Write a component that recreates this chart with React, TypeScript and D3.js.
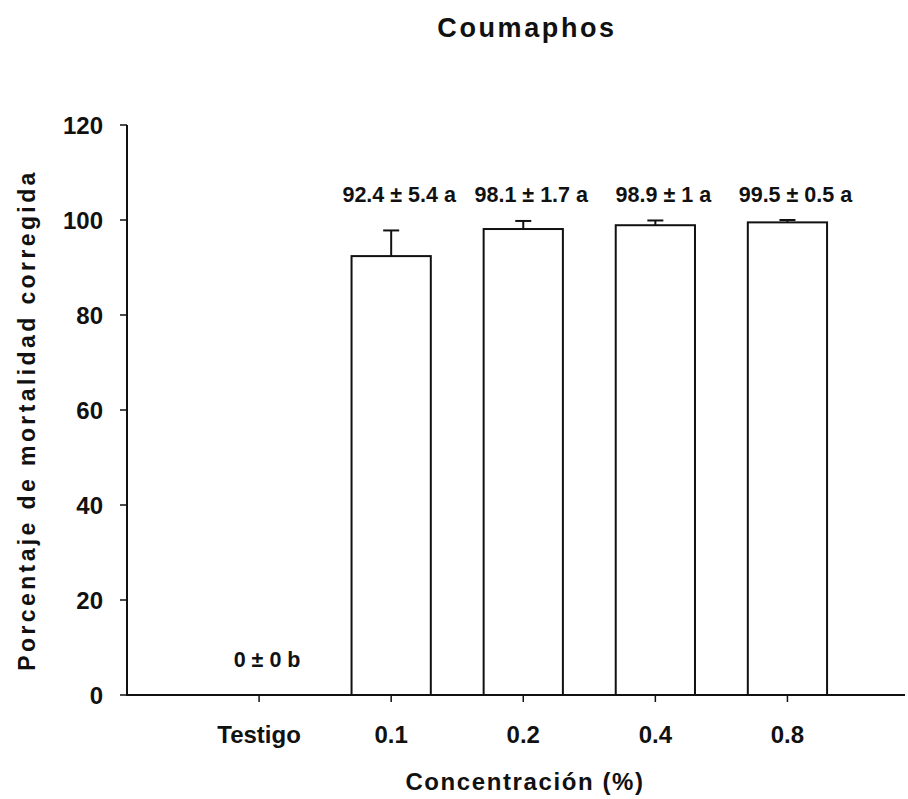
import * as d3 from "d3";

const TITLE = "Coumaphos";
const CATEGORIES = ["Testigo", "0.1", "0.2", "0.4", "0.8"];
const MEANS = [0, 92.4, 98.1, 98.9, 99.5];
const ERRORS = [0, 5.4, 1.7, 1, 0.5];
const LETTERS = ["b", "a", "a", "a", "a"];
const Y_TICKS = [0, 20, 40, 60, 80, 100, 120];
const Y_LABEL = "Porcentaje de mortalidad corregida";
const X_LABEL = "Concentración (%)";

const WIDTH = 908;
const HEIGHT = 799;
const FONT = "'Liberation Sans', Arial, Helvetica, sans-serif";

export default function App() {
  const x = d3.scaleLinear().domain([0, 5.89]).range([127, 905]);
  const y = d3.scaleLinear().domain([0, 120]).range([695, 125]);
  const barW = x(0.6) - x(0);
  const capW = 16;

  const fmt = (v: number) => String(v);

  return (
    <>
      <style>{`body{margin:0;background:#fff}`}</style>
      <svg width={WIDTH} height={HEIGHT} style={{ display: "block", fontFamily: FONT }}>
        <rect width={WIDTH} height={HEIGHT} fill="#fff" />
        <text
          x={527}
          y={37}
          textAnchor="middle"
          fontSize={27}
          fontWeight="bold"
          letterSpacing={2.6}
          fill="#111"
        >
          {TITLE}
        </text>

        {/* bars */}
        {CATEGORIES.map((c, i) => {
          const cx = x(i + 1);
          return (
            <g key={c}>
              {MEANS[i] > 0 && (
                <rect
                  x={cx - barW / 2}
                  y={y(MEANS[i])}
                  width={barW}
                  height={y(0) - y(MEANS[i])}
                  fill="#fff"
                  stroke="#111"
                  strokeWidth={2}
                />
              )}
              {ERRORS[i] > 0 && (
                <g stroke="#111" strokeWidth={2}>
                  <line x1={cx} x2={cx} y1={y(MEANS[i])} y2={y(MEANS[i] + ERRORS[i])} />
                  <line
                    x1={cx - capW / 2}
                    x2={cx + capW / 2}
                    y1={y(MEANS[i] + ERRORS[i])}
                    y2={y(MEANS[i] + ERRORS[i])}
                  />
                </g>
              )}
              <text
                x={cx + 8}
                y={MEANS[i] > 0 ? 202 : 667}
                textAnchor="middle"
                fontSize={21.5}
                fontWeight="bold"
                fill="#111"
              >
                {`${fmt(MEANS[i])} ± ${fmt(ERRORS[i])} ${LETTERS[i]}`}
              </text>
            </g>
          );
        })}

        {/* y axis */}
        <line x1={x(0)} x2={x(0)} y1={y(0) + 1} y2={y(120)} stroke="#111" strokeWidth={2} />
        {Y_TICKS.map((t) => (
          <g key={t}>
            <line x1={x(0) - 7} x2={x(0)} y1={y(t)} y2={y(t)} stroke="#111" strokeWidth={1.5} />
            <text
              x={103}
              y={y(t)}
              dy="0.36em"
              textAnchor="end"
              fontSize={24}
              fontWeight="bold"
              fill="#111"
            >
              {t}
            </text>
          </g>
        ))}

        {/* x axis */}
        <line x1={x(0) - 1} x2={x.range()[1]} y1={y(0)} y2={y(0)} stroke="#111" strokeWidth={2} />
        {CATEGORIES.map((c, i) => (
          <g key={c}>
            <line x1={x(i + 1)} x2={x(i + 1)} y1={y(0)} y2={y(0) + 7} stroke="#111" strokeWidth={1.5} />
            <text
              x={x(i + 1)}
              y={743}
              textAnchor="middle"
              fontSize={24}
              fontWeight="bold"
              fill="#111"
            >
              {c}
            </text>
          </g>
        ))}

        <text
          x={525}
          y={790}
          textAnchor="middle"
          fontSize={24}
          fontWeight="bold"
          letterSpacing={1.6}
          fill="#111"
        >
          {X_LABEL}
        </text>
        <text
          transform="translate(35,420) rotate(-90)"
          textAnchor="middle"
          fontSize={23}
          fontWeight="bold"
          letterSpacing={3.4}
          fill="#111"
        >
          {Y_LABEL}
        </text>
      </svg>
    </>
  );
}
